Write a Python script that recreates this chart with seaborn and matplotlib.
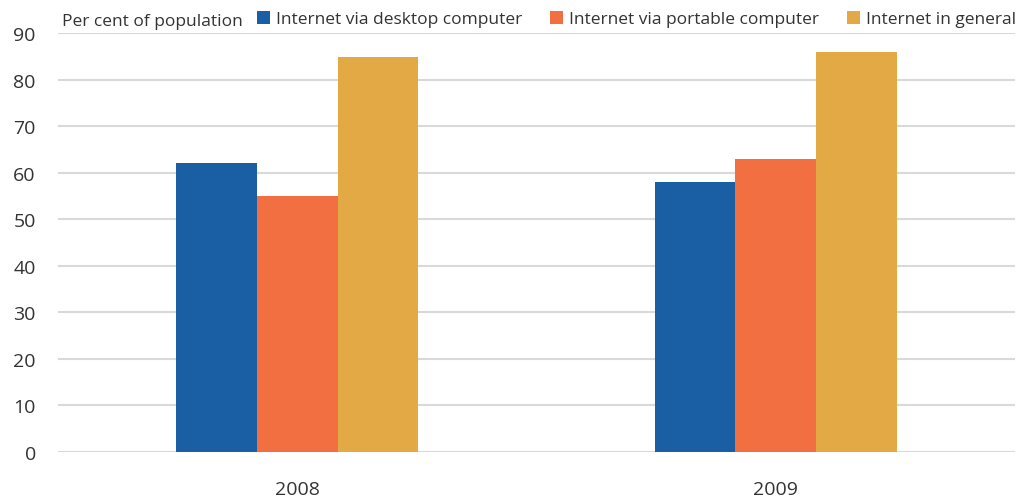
import matplotlib
matplotlib.use("Agg")
import matplotlib.pyplot as plt
import seaborn as sns
import pandas as pd

years = ["2008", "2009"]
series = ["Internet via desktop computer", "Internet via portable computer", "Internet in general"]
desktop = [62, 58]
portable = [55, 63]
general = [84.8, 86]
colors = ["#1a5fa3", "#f26f42", "#e3a945"]
yticks = [0, 10, 20, 30, 40, 50, 60, 70, 80, 90]

rows = []
for s, vals in zip(series, [desktop, portable, general]):
    for y, v in zip(years, vals):
        rows.append({"year": y, "series": s, "value": v})
df = pd.DataFrame(rows)

sns.set_theme(style="white")
plt.rcParams["font.family"] = ["Open Sans", "DejaVu Sans"]
txt = "#333333"

fig = plt.figure(figsize=(10.31, 5.02), dpi=100)
ax = fig.add_axes([58/1031, 1 - 453/502, (1015 - 58)/1031, (453 - 34)/502])
sns.barplot(data=df, x="year", y="value", hue="series", palette=colors,
            width=0.505, saturation=1, ax=ax, legend=True, linewidth=0)

ax.set_ylim(0, 90)
ax.set_yticks(yticks)
ax.set_yticklabels([str(t) for t in yticks], fontsize=14, color=txt)
ax.tick_params(axis="x", labelsize=14, colors=txt, pad=20, length=0)
ax.tick_params(axis="y", pad=16, length=0)
ax.set_xlabel("")
ax.set_ylabel("")
ax.set_xlim(-0.5, 1.5)
ax.yaxis.grid(True, color="#d9d9d9", linewidth=1.5)
ax.set_axisbelow(True)
for sp in ax.spines.values():
    sp.set_visible(False)

fig.text(62/1031, 1 - 22/502, "Per cent of population", fontsize=12.5, color=txt,
         va="center", ha="left")
leg = ax.legend(loc="center left", bbox_to_anchor=(257/1031, 1 - 20/502),
                bbox_transform=fig.transFigure, ncol=3, frameon=False,
                fontsize=12.5, handlelength=0.75, handleheight=0.75,
                handletextpad=0.35, columnspacing=1.6, borderaxespad=0, borderpad=0)
for t in leg.get_texts():
    t.set_color(txt)

fig.savefig("out.png", dpi=100)
